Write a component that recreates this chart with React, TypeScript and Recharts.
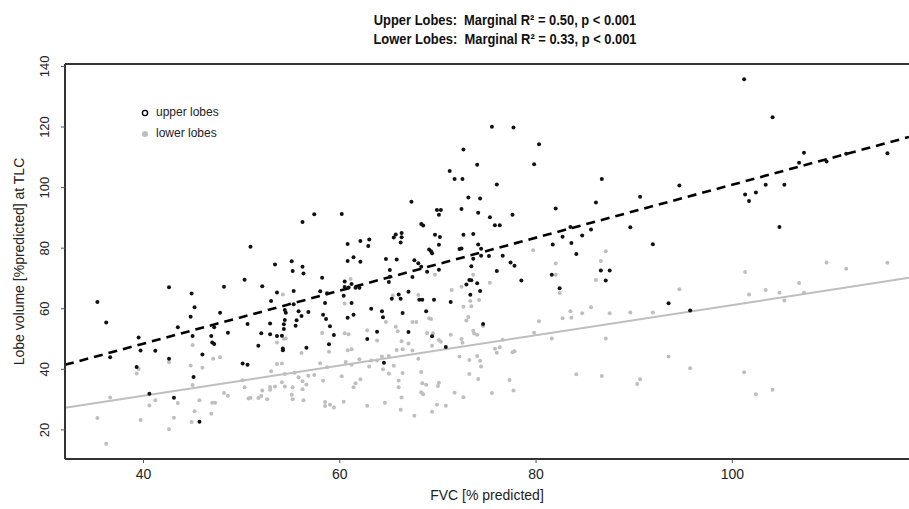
import React from "react";
import {
  ScatterChart,
  Scatter,
  XAxis,
  YAxis,
  ReferenceLine,
  Legend,
} from "recharts";

// FVC [% predicted] vs lobe volume
const upperLobes: [number, number][] = [
  [35.3, 62.2], [36.2, 55.5], [36.6, 44.0], [39.5, 50.5], [39.7, 46.2], [39.3, 40.8], [40.6, 31.9],
  [41.2, 46.1], [42.6, 67.1], [42.6, 43.5], [43.1, 30.6], [43.5, 53.9], [44.9, 65.0], [45.2, 60.5],
  [44.8, 57.4], [45.0, 51.0], [45.1, 37.5], [46.0, 44.9], [45.7, 22.7], [47.2, 53.9], [46.9, 51.0],
  [47.0, 48.9], [47.2, 48.4], [47.8, 58.7], [48.2, 67.3], [48.6, 52.1],
  [50.9, 80.5], [50.3, 69.6], [52.1, 67.4], [50.6, 55.0], [50.1, 41.9], [50.6, 41.5], [51.7, 47.8],
  [52.0, 51.9], [52.9, 55.1], [52.9, 51.6], [53.0, 62.6], [53.4, 74.6], [53.6, 51.0], [53.6, 65.4],
  [54.1, 51.1], [54.2, 46.9], [54.2, 46.3], [54.3, 53.3], [54.3, 54.9], [54.4, 56.3], [54.4, 59.6],
  [54.5, 58.7], [55.1, 75.7], [55.2, 72.5], [55.3, 65.9], [55.3, 61.5], [55.5, 54.4], [55.6, 56.2],
  [55.8, 59.2], [56.1, 57.6], [56.2, 88.6], [56.2, 73.9], [56.3, 71.6], [56.6, 47.1], [56.8, 58.9],
  [57.4, 91.2], [58.0, 65.8], [58.2, 70.2], [58.3, 58.0], [58.5, 61.9], [58.6, 56.6], [58.7, 65.1],
  [59.0, 54.2], [59.4, 51.3], [58.9, 48.3], [60.2, 91.3], [60.8, 81.4], [60.8, 75.8], [61.4, 77.0],
  [62.1, 75.5], [62.1, 82.4], [62.9, 80.7], [63.0, 82.9], [60.5, 69.0], [60.5, 67.2], [60.9, 67.0],
  [60.4, 64.3], [61.2, 68.2], [61.6, 66.9], [62.0, 66.9], [61.2, 61.9], [61.4, 58.0], [60.8, 57.0],
  [62.8, 50.0], [63.2, 60.0], [63.8, 52.4], [64.3, 59.2], [64.4, 57.2], [64.5, 42.2], [64.7, 76.4],
  [65.1, 72.8], [65.1, 70.6], [65.0, 68.8], [65.5, 83.5], [65.7, 84.5], [65.8, 76.3], [66.3, 85.0],
  [66.3, 83.6], [66.2, 81.9], [65.3, 63.3], [66.0, 64.7], [66.2, 63.3], [66.4, 58.6], [67.0, 52.3],
  [67.0, 65.6],
  [67.3, 95.3], [67.6, 76.0], [68.0, 75.0], [67.4, 70.5], [68.3, 88.0], [68.5, 87.5], [68.3, 73.9],
  [68.9, 72.2], [68.1, 63.0], [68.4, 63.0], [68.8, 59.2], [69.1, 79.6], [69.3, 79.0], [69.4, 78.3],
  [69.6, 63.0], [69.4, 50.9], [69.7, 84.4], [69.9, 92.6], [70.3, 92.6], [70.1, 91.0], [70.1, 81.1],
  [70.2, 83.7], [70.1, 72.9], [70.8, 47.4], [71.2, 105.5], [71.7, 102.8], [72.5, 102.8], [72.6, 112.6],
  [71.3, 62.2], [72.2, 79.7], [72.4, 79.9], [72.4, 92.9], [72.6, 84.4], [72.9, 68.0], [73.2, 69.5],
  [73.4, 69.4], [73.1, 96.7], [73.3, 64.6], [73.4, 74.0], [73.6, 76.5], [73.6, 84.7], [74.0, 68.4],
  [74.0, 107.5], [74.1, 91.7], [74.1, 81.2], [74.3, 65.9], [74.3, 96.4], [74.4, 79.8], [74.4, 77.5],
  [74.6, 55.0], [75.2, 77.4], [75.3, 90.2], [75.5, 120.1], [75.8, 87.6], [76.3, 87.6], [76.0, 72.5],
  [76.0, 101.0], [76.6, 77.5], [77.4, 75.3], [77.7, 119.8], [77.6, 91.0], [77.8, 74.2], [78.5, 69.3],
  [79.8, 107.7], [80.3, 114.3], [81.6, 71.2], [81.7, 81.2], [82.0, 93.1], [82.4, 66.8], [82.7, 83.8],
  [83.5, 87.0], [83.6, 81.7], [84.1, 78.1],
  [84.7, 84.2], [85.6, 86.2], [86.1, 95.1], [86.7, 102.8], [86.6, 72.6], [87.5, 72.6], [87.1, 69.3],
  [89.6, 86.9], [90.6, 97.0], [91.9, 81.3], [93.5, 61.8], [94.6, 100.7], [95.7, 59.4], [101.2, 135.8],
  [101.3, 97.7], [101.7, 95.6],
  [102.4, 98.4], [103.4, 100.9], [104.1, 123.2], [104.8, 87.0], [105.3, 100.9], [106.8, 108.2],
  [107.3, 111.5], [109.6, 108.6], [111.6, 111.2], [115.8, 111.3],
];

const lowerLobes: [number, number][] = [
  [35.3, 23.9], [36.2, 15.4], [36.6, 30.7], [39.3, 38.6], [39.5, 40.1], [39.7, 23.3], [40.6, 28.1],
  [41.2, 29.8], [42.6, 42.3], [42.6, 20.2], [43.1, 24.0], [43.5, 28.9], [44.8, 41.3], [45.0, 48.0],
  [45.0, 34.8], [44.9, 22.6], [45.2, 26.2], [45.7, 29.8], [46.0, 40.5], [47.1, 43.5], [47.8, 44.0],
  [46.9, 25.3], [47.0, 29.0], [47.3, 29.0], [48.2, 32.2], [48.6, 31.3],
  [50.1, 36.4], [50.3, 34.1], [50.7, 30.4], [50.9, 30.6], [51.7, 30.5], [52.0, 31.2], [52.1, 33.0],
  [52.6, 30.1], [52.9, 33.3], [52.9, 34.2], [53.0, 39.4], [53.4, 34.3], [53.6, 48.9], [53.6, 41.8],
  [54.1, 41.9], [54.1, 35.7], [54.2, 64.7], [54.3, 50.1], [54.5, 50.2], [54.4, 38.5], [54.4, 34.3],
  [55.1, 31.6], [55.2, 30.1], [55.2, 34.1], [55.4, 38.9], [55.8, 37.4], [56.1, 45.4], [56.2, 36.1],
  [56.2, 33.4], [56.3, 29.8], [56.6, 35.0], [56.8, 37.9], [57.4, 38.1], [58.0, 42.0], [58.2, 52.0],
  [58.3, 36.2], [58.5, 29.2], [58.5, 27.9], [59.0, 28.3], [59.4, 27.4], [58.7, 40.7], [58.9, 45.8],
  [60.2, 37.7], [60.4, 29.3], [60.5, 51.9], [60.9, 51.6], [60.8, 46.3], [61.2, 46.6], [60.6, 42.4],
  [60.5, 61.7], [61.1, 69.8], [61.2, 41.5], [61.6, 35.4], [62.1, 36.7], [61.4, 34.1], [62.0, 43.3],
  [62.8, 52.9], [62.8, 28.0], [63.0, 40.9], [63.2, 42.9], [63.8, 49.5], [63.8, 42.9], [64.3, 44.2],
  [64.4, 40.0], [64.6, 29.0], [64.7, 55.6], [65.0, 44.4], [65.0, 38.6], [65.4, 64.4], [65.5, 41.2],
  [65.7, 54.1], [65.9, 52.6], [65.8, 46.4], [66.4, 46.6], [66.0, 36.3], [66.0, 34.1], [66.3, 49.3],
  [66.3, 30.7], [66.2, 26.7], [66.4, 38.8], [67.0, 48.5],
  [67.4, 55.6], [67.8, 55.6], [67.4, 46.2], [68.0, 43.5], [68.3, 39.1], [68.4, 35.4], [68.8, 34.9],
  [68.3, 32.4], [68.5, 31.8], [67.6, 24.7], [68.0, 64.5], [69.1, 56.9], [69.3, 56.6], [68.9, 52.0],
  [69.5, 51.9], [69.4, 47.8], [69.7, 71.2], [70.1, 49.7], [70.3, 49.1], [70.0, 34.5], [70.1, 35.6],
  [69.4, 26.0], [69.9, 28.3], [70.8, 28.0], [71.4, 66.2], [71.3, 51.4], [72.2, 44.2], [71.7, 32.3],
  [72.4, 67.3], [72.6, 60.7], [72.4, 50.0], [72.5, 48.8], [72.6, 30.8], [72.9, 56.1], [73.1, 57.3],
  [73.3, 62.6], [73.4, 60.8], [73.2, 43.1], [73.2, 38.5], [73.6, 52.7], [73.7, 51.8], [73.6, 71.2],
  [74.0, 51.4], [74.0, 44.4], [74.3, 42.8], [74.4, 40.9], [74.1, 36.8], [74.2, 62.9], [74.6, 54.3],
  [75.3, 68.6], [75.5, 32.2], [75.8, 46.8], [76.0, 45.5], [76.3, 47.3], [76.6, 49.8], [77.3, 36.5],
  [77.6, 45.6], [77.8, 46.0], [77.7, 33.0], [79.7, 79.3], [79.8, 52.1], [80.3, 55.9], [81.6, 50.2],
  [82.0, 74.9], [82.0, 71.2], [82.4, 65.2], [82.7, 56.9], [83.5, 59.2], [83.6, 57.0], [84.1, 38.4],
  [84.7, 58.5], [85.6, 60.5], [86.1, 69.5], [86.6, 75.8], [87.1, 79.0], [87.1, 50.2], [86.7, 37.8],
  [87.5, 58.5], [89.6, 58.8], [90.3, 35.2], [90.6, 36.7], [91.9, 58.8], [93.5, 44.2], [94.6, 66.4],
  [95.7, 40.4], [101.3, 72.1], [101.2, 39.0], [101.7, 64.7],
  [102.4, 31.8], [103.4, 66.2], [104.1, 33.3], [104.8, 65.3], [105.3, 62.7], [106.8, 68.5],
  [107.3, 65.3], [109.6, 75.3], [111.6, 73.2], [115.8, 75.2],
];

// regression line end points (at the x range edges)
const upperFit: [number, number][] = [[32, 41.5], [118, 116.7]];
const lowerFit: [number, number][] = [[32, 27.3], [118, 70.2]];

const xTicks = [40, 60, 80, 100];
const yTicks = [20, 40, 60, 80, 100, 120, 140];
const xDomain = [32, 118];
const yDomain = [10.4, 140.8];

const titleLines = [
  "Upper Lobes:  Marginal R² = 0.50, p < 0.001",
  "Lower Lobes:  Marginal R² = 0.33, p < 0.001",
];

const GREY = "#bebebe";
const FONT = "'Liberation Sans', Arial, sans-serif";

const toPoints = (rows: [number, number][]) => rows.map(([x, y]) => ({ x, y }));

const XTick = ({ x, y, payload }: any) => (
  <text x={x} y={y + 9} textAnchor="middle" dominantBaseline="central" fontSize={14} fill="#222" fontFamily={FONT}>
    {payload.value}
  </text>
);

const YTick = ({ x, y, payload }: any) => {
  const cx = x - 14;
  return (
    <text
      x={cx}
      y={y}
      transform={`rotate(-90, ${cx}, ${y})`}
      textAnchor="middle"
      dominantBaseline="central"
      fontSize={13}
      fill="#222"
      fontFamily={FONT}
    >
      {payload.value}
    </text>
  );
};

const LegendBox = () => (
  <div style={{ fontFamily: FONT, fontSize: 12, color: "#222", lineHeight: "21px" }}>
    <div style={{ display: "flex", alignItems: "center" }}>
      <svg width={10} height={10} style={{ marginRight: 6 }}>
        <circle cx={5} cy={5} r={2.6} fill="none" stroke="#000" strokeWidth={1.4} />
      </svg>
      upper lobes
    </div>
    <div style={{ display: "flex", alignItems: "center" }}>
      <svg width={10} height={10} style={{ marginRight: 6 }}>
        <circle cx={5} cy={5} r={3} fill={GREY} />
      </svg>
      lower lobes
    </div>
  </div>
);

export default function App() {
  return (
    <div style={{ position: "absolute", left: 0, top: 0, width: 909, height: 509, background: "#fff" }}>
      <div
        style={{
          position: "absolute",
          left: 0,
          top: 10,
          width: 1010,
          textAlign: "center",
          fontFamily: FONT,
          fontWeight: "bold",
          fontSize: 15,
          lineHeight: "19px",
          color: "#111",
        }}
      >
        {titleLines.map((t) => (
          <div key={t} style={{ whiteSpace: "pre", transform: "scaleX(0.86)" }}>{t}</div>
        ))}
      </div>
      <ScatterChart width={909} height={509} margin={{ top: 64, right: 0, bottom: 0, left: 0 }}>
        <XAxis
          type="number"
          dataKey="x"
          domain={xDomain}
          ticks={xTicks}
          allowDataOverflow
          height={50}
          tick={<XTick />}
          tickSize={4}
          tickLine={{ stroke: "#555" }}
          axisLine={{ stroke: "#333", strokeWidth: 2 }}
          label={{ value: "FVC [% predicted]", position: "insideBottom", offset: 9, fontSize: 14, fill: "#222", fontFamily: FONT }}
        />
        <YAxis
          type="number"
          dataKey="y"
          domain={yDomain}
          ticks={yTicks}
          allowDataOverflow
          width={65}
          tick={<YTick />}
          tickSize={4}
          tickLine={{ stroke: "#555" }}
          axisLine={{ stroke: "#333", strokeWidth: 2 }}
          label={{ value: "Lobe volume [%predicted] at TLC", angle: -90, position: "insideLeft", offset: 19, fontSize: 14, fill: "#222", fontFamily: FONT, style: { textAnchor: "middle" } }}
        />
        <ReferenceLine y={yDomain[1]} stroke="#333" strokeWidth={2} ifOverflow="extendDomain" />
        <Scatter
          name="lower lobes"
          data={toPoints(lowerLobes)}
          isAnimationActive={false}
          shape={(p: any) => <circle cx={p.cx} cy={p.cy} r={2} fill={GREY} />}
        />
        <Scatter
          name="upper lobes"
          data={toPoints(upperLobes)}
          isAnimationActive={false}
          shape={(p: any) => <circle cx={p.cx} cy={p.cy} r={2} fill="#111" />}
        />
        <ReferenceLine
          segment={upperFit.map(([x, y]) => ({ x, y }))}
          stroke="#000"
          strokeWidth={2.6}
          strokeDasharray="9 6"
        />
        <ReferenceLine segment={lowerFit.map(([x, y]) => ({ x, y }))} stroke={GREY} strokeWidth={2} />
        <Legend
          layout="horizontal"
          verticalAlign="middle"
          align="center"
          content={<LegendBox />}
          wrapperStyle={{ left: 140, top: 102, width: "auto" }}
        />
      </ScatterChart>
    </div>
  );
}
